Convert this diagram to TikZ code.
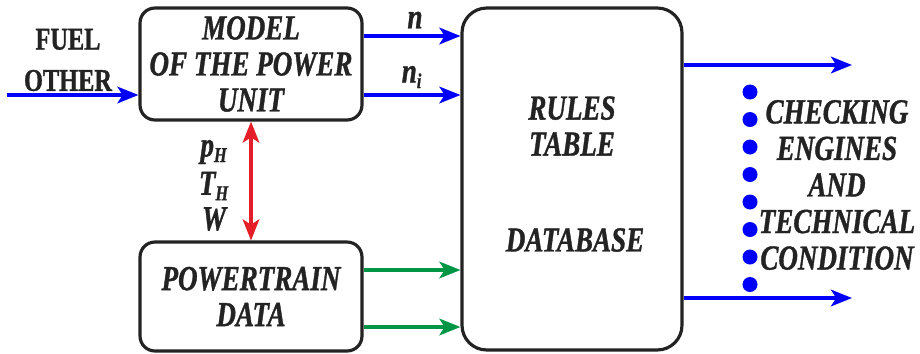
\documentclass[tikz,border=0pt]{standalone}
\usepackage{fontspec}
\setmainfont{Liberation Serif}[FakeStretch=0.77,
  BoldFeatures={FakeBold=1}, BoldItalicFeatures={FakeBold=1}]
\usepackage{xcolor}
\usetikzlibrary{arrows.meta}

\definecolor{inkgray}{RGB}{35,35,35}
\definecolor{flowblue}{RGB}{0,0,250}
\definecolor{flowred}{RGB}{228,30,40}
\definecolor{flowgreen}{RGB}{0,150,70}

\newcommand{\lowsub}[1]{\textsubscript{\fontsize{12}{12}\selectfont #1}}

\tikzset{
  block/.style={draw=inkgray, line width=1.8pt, rounded corners=8.5pt, inner sep=0pt,
    align=center, text=inkgray, font=\fontsize{20}{20.5}\selectfont\bfseries\itshape},
  lbl/.style={text=inkgray, align=center, inner sep=0pt,
    font=\fontsize{20}{20.5}\selectfont\bfseries\itshape},
  flow/.style={line width=1.8pt, -{Stealth[length=12pt,width=9.5pt,inset=3pt]}},
}

\begin{document}
\begin{tikzpicture}[x=0.02cm, y=-0.02cm]
\useasboundingbox (0,0) rectangle (920,353);

% blocks
\node[block, minimum width=4.44cm, minimum height=2.24cm] (model) at (251,64)
  {MODEL\\OF THE POWER\\UNIT};
\node[block, minimum width=4.44cm, minimum height=2.18cm] (train) at (251,296.5)
  {POWERTRAIN\\DATA};
\node[block, rounded corners=14pt, minimum width=4.4cm, minimum height=6.84cm] (rules) at (572,179) {};
\node[lbl] (rulestxt) at (572,126) {RULES\\TABLE};
\node[lbl] (dbtxt) at (575,240) {DATABASE};
\node[lbl, font=\fontsize{20}{20.8}\selectfont\bfseries\itshape] (check) at (837,185)
  {CHECKING\\ENGINES\\AND\\TECHNICAL\\CONDITION};

% labels
\node[lbl, font=\fontsize{18}{23.5}\selectfont\bfseries] (fuel) at (68,60) {FUEL\\OTHER};
\node[lbl] (nlbl) at (415,20) {n};
\node[lbl] (nilbl) at (412,77) {n\lowsub{i}};
\node[lbl] (phlbl) at (214,152) {p\lowsub{H}};
\node[lbl] (thlbl) at (214,186) {T\lowsub{H}};
\node[lbl] (wlbl) at (214,219) {W};

% rows
\coordinate (fuelin) at (7,95);
\coordinate (nrow) at (0,36);
\coordinate (nirow) at (0,95);
\coordinate (grow) at (0,270);
\coordinate (girow) at (0,327);
\coordinate (outa) at (852,65);
\coordinate (outb) at (852,298);

% connectors
\draw[flow, flowblue] (fuelin) -- (model.west |- fuelin);
\draw[flow, flowblue] (model.east |- nrow) -- (rules.west |- nrow);
\draw[flow, flowblue] (model.east |- nirow) -- (rules.west |- nirow);
\draw[flow, flowgreen] (train.east |- grow) -- (rules.west |- grow);
\draw[flow, flowgreen] (train.east |- girow) -- (rules.west |- girow);
\draw[flow, flowred, {Stealth[length=12pt,width=9.5pt,inset=3pt]}-{Stealth[length=12pt,width=9.5pt,inset=3pt]}]
  (model.south) -- (train.north);
\draw[flow, flowblue] (rules.east |- outa) -- (outa);
\draw[flow, flowblue] (rules.east |- outb) -- (outb);

% dots
\fill[flowblue] (750,92) circle (7.5);
\fill[flowblue] (750,119.5) circle (7.5);
\fill[flowblue] (750,147) circle (7.5);
\fill[flowblue] (750,174.5) circle (7.5);
\fill[flowblue] (750,202) circle (7.5);
\fill[flowblue] (750,229.5) circle (7.5);
\fill[flowblue] (750,257) circle (7.5);
\fill[flowblue] (750,284.5) circle (7.5);
\end{tikzpicture}
\end{document}
